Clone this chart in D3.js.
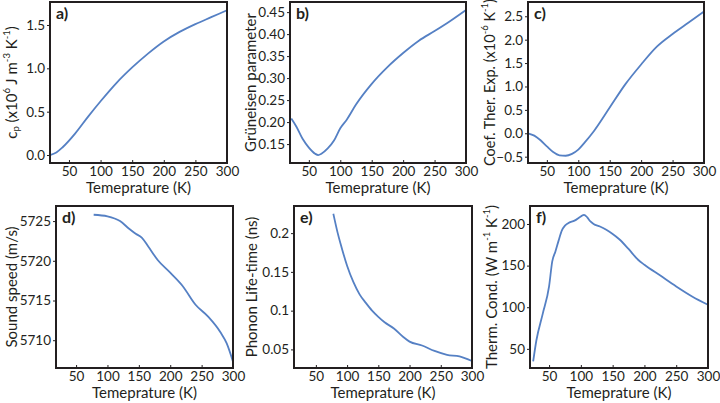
<!DOCTYPE html>
<html>
<head>
<meta charset="utf-8">
<script src="https://cdn.jsdelivr.net/npm/d3@7"></script>
<style>
  html, body { margin: 0; padding: 0; background: #fff; }
  svg { display: block; font-family: Lato, "Open Sans", sans-serif; }
</style>
</head>
<body>
<div id="container"></div>
<script>
const width = 720;
const height = 403;

// a) heat capacity
const tempCp = [20, 30, 40, 60, 80, 100, 125, 150, 175, 200, 225, 250, 275, 300];
const cpVals = [0.0, 0.03, 0.09, 0.25, 0.44, 0.62, 0.83, 1.01, 1.17, 1.31, 1.42, 1.51, 1.59, 1.67];

// b) Grüneisen parameter
const tempGr = [22, 30, 40, 50, 60, 65, 70, 80, 90, 100, 110, 125, 150, 175, 200, 225, 250, 275, 300];
const grVals = [0.208, 0.19, 0.162, 0.142, 0.128, 0.125, 0.128, 0.14, 0.158, 0.186, 0.205, 0.24, 0.287, 0.325, 0.357, 0.385, 0.407, 0.43, 0.455];

// c) thermal expansion coefficient
const tempTe = [20, 30, 40, 50, 60, 70, 80, 90, 100, 110, 125, 150, 175, 200, 225, 250, 275, 300];
const teVals = [0.0, -0.05, -0.15, -0.28, -0.4, -0.47, -0.48, -0.44, -0.35, -0.2, 0.05, 0.55, 1.05, 1.47, 1.85, 2.12, 2.36, 2.6];

// d) sound speed
const tempSs = [78, 100, 120, 135, 145, 155, 165, 180, 200, 220, 240, 260, 280, 290, 300];
const ssVals = [5725.8, 5725.6, 5725.0, 5724.0, 5723.4, 5722.9, 5721.8, 5720.1, 5718.5, 5716.8, 5714.5, 5713.0, 5711.0, 5709.6, 5707.3];

// e) phonon life-time
const tempLt = [78, 85, 90, 100, 110, 120, 130, 140, 150, 160, 175, 190, 200, 220, 240, 260, 280, 300];
const ltVals = [0.225, 0.2, 0.185, 0.158, 0.137, 0.121, 0.11, 0.1, 0.092, 0.085, 0.077, 0.066, 0.06, 0.055, 0.048, 0.043, 0.041, 0.035];

// f) thermal conductivity
const tempTc = [25, 30, 40, 50, 55, 60, 65, 70, 75, 80, 90, 100, 105, 110, 115, 120, 130, 140, 150, 160, 175, 190, 200, 225, 250, 275, 300];
const tcVals = [35, 60, 92, 125, 155, 167, 180, 192, 198, 201, 204, 209, 211, 208, 203, 200, 197, 193, 188, 182, 170, 157, 151, 138, 125, 113, 103];

const xTicks = [50, 100, 150, 200, 250, 300];
const xLabel = "Temeprature (K)";

const panels = [
  { tag: "a)", xs: tempCp, ys: cpVals, xDom: [20, 300], yDom: [-0.092, 1.765],
    yTicks: [0, 0.5, 1.0, 1.5], fmt: d3.format(".1f"),
    box: [50, 227, 2, 163], ylx: 13, ylSize: 15,
    ylab: [["c"], ["p", "sub"], [" (x10"], ["6", "sup"], [" J m"], ["-3", "sup"], [" K"], ["-1", "sup"], [")"]] },
  { tag: "b)", xs: tempGr, ys: grVals, xDom: [20, 300], yDom: [0.107, 0.473],
    yTicks: [0.15, 0.2, 0.25, 0.3, 0.35, 0.4, 0.45], fmt: d3.format(".2f"),
    box: [290, 466, 2, 163], ylx: 252, ylSize: 15,
    ylab: [["Grüneisen parameter"]] },
  { tag: "c)", xs: tempTe, ys: teVals, xDom: [20, 300], yDom: [-0.635, 2.805],
    yTicks: [-0.5, 0, 0.5, 1.0, 1.5, 2.0, 2.5], fmt: d3.format(".1f"),
    box: [528, 704, 2, 163], ylx: 491, ylSize: 14.5,
    ylab: [["Coef. Ther. Exp. (x10"], ["-6", "sup"], [" K"], ["-1", "sup"], [")"]] },
  { tag: "d)", xs: tempSs, ys: ssVals, xDom: [18, 300], yDom: [5706.5, 5726.9],
    yTicks: [5710, 5715, 5720, 5725], fmt: d3.format("d"),
    box: [56, 233, 206, 368], ylx: 13, ylSize: 15,
    ylab: [["Sound speed (m/s)"]] },
  { tag: "e)", xs: tempLt, ys: ltVals, xDom: [15, 300], yDom: [0.026, 0.235],
    yTicks: [0.05, 0.1, 0.15, 0.2], fmt: (d) => String(+d.toFixed(2)),
    box: [294, 472, 206, 368], ylx: 253, ylSize: 15,
    ylab: [["Phonon Life-time (ns)"]] },
  { tag: "f)", xs: tempTc, ys: tcVals, xDom: [20, 300], yDom: [27, 221.6],
    yTicks: [50, 100, 150, 200], fmt: d3.format("d"),
    box: [530, 708, 206, 368], ylx: 493, ylSize: 15,
    ylab: [["Therm. Cond. (W m"], ["-1", "sup"], [" K"], ["-1", "sup"], [")"]] },
];

const ink = "#231f20";
const lineColor = "#5580c4";

const svg = d3.select("#container")
  .append("svg")
  .attr("width", width)
  .attr("height", height);

panels.forEach((p) => {
  const [x0, x1, y0, y1] = p.box;
  const x = d3.scaleLinear().domain(p.xDom).range([x0, x1]);
  const y = d3.scaleLinear().domain(p.yDom).range([y1, y0]);
  const g = svg.append("g");

  const xAxis = g.append("g")
    .attr("transform", `translate(0,${y1})`)
    .call(d3.axisBottom(x).tickValues(xTicks).tickSize(-3).tickSizeOuter(0).tickPadding(3));
  const yAxis = g.append("g")
    .attr("transform", `translate(${x0},0)`)
    .call(d3.axisLeft(y).tickValues(p.yTicks).tickFormat(p.fmt).tickSize(3).tickSizeOuter(0).tickPadding(2));

  [xAxis, yAxis].forEach((ax) => {
    ax.select(".domain").remove();
    ax.selectAll("line").attr("stroke", ink).attr("stroke-width", 1);
    ax.selectAll("text")
      .attr("fill", ink)
      .attr("font-size", 13.5)
      .attr("font-family", "Lato, 'Open Sans', sans-serif");
  });

  const line = d3.line()
    .x((d, i) => x(p.xs[i]))
    .y((d) => y(d))
    .curve(d3.curveMonotoneX);

  g.append("path")
    .datum(p.ys)
    .attr("fill", "none")
    .attr("stroke", lineColor)
    .attr("stroke-width", 1.8)
    .attr("d", line);

  g.append("rect")
    .attr("x", x0)
    .attr("y", y0)
    .attr("width", x1 - x0)
    .attr("height", y1 - y0)
    .attr("fill", "none")
    .attr("stroke", ink)
    .attr("stroke-width", 2);

  g.append("text")
    .attr("x", x0 + 6)
    .attr("y", y0 + 17)
    .attr("font-size", 16)
    .attr("font-weight", 700)
    .attr("fill", ink)
    .text(p.tag);

  g.append("text")
    .attr("x", (x0 + x1) / 2)
    .attr("y", y1 + 30)
    .attr("text-anchor", "middle")
    .attr("font-size", 15)
    .attr("fill", ink)
    .text(xLabel);

  const yl = g.append("text")
    .attr("transform", `translate(${p.ylx},${(y0 + y1) / 2}) rotate(-90)`)
    .attr("text-anchor", "middle")
    .attr("dominant-baseline", "middle")
    .attr("font-size", p.ylSize)
    .attr("fill", ink);

  let shift = 0;
  p.ylab.forEach(([txt, kind]) => {
    const target = kind === "sup" ? -5 : kind === "sub" ? 4 : 0;
    yl.append("tspan")
      .attr("dy", target - shift)
      .attr("font-size", kind ? 9.5 : p.ylSize)
      .text(txt);
    shift = target;
  });
});
</script>
</body>
</html>
